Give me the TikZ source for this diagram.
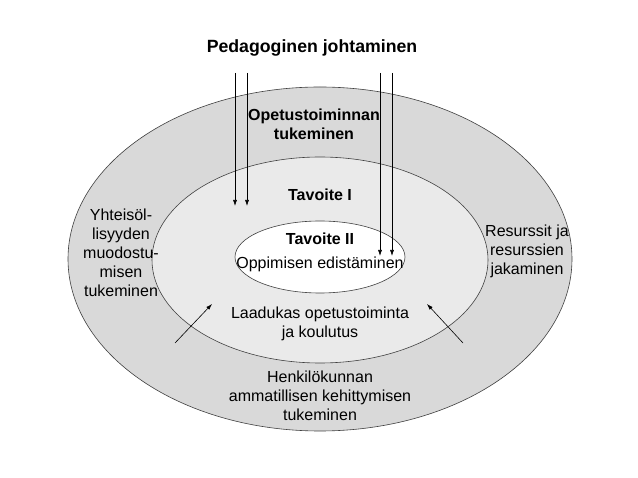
\documentclass[tikz,border=0pt]{standalone}
\usepackage{fontspec}
\setmainfont{Liberation Sans}
\usetikzlibrary{arrows.meta}
\definecolor{outerfill}{HTML}{D9D9D9}
\definecolor{midfill}{HTML}{EAEAEA}
\begin{document}
\begin{tikzpicture}[x=1pt,y=-1pt,
  ring/.style={draw=black!75,line width=0.6pt},
  txt/.style={inner sep=0pt,align=center,font=\fontsize{16}{19}\selectfont},
  btxt/.style={txt,font=\fontsize{16}{19}\selectfont\bfseries},
  arr/.style={draw=black,line width=0.6pt,-{Latex[length=6pt,width=4pt]}}]
\useasboundingbox[fill=white] (0,0) rectangle (638,478);
\fill[outerfill,ring] (320,259) ellipse [x radius=252pt,y radius=172pt];
\fill[midfill,ring] (320,260) ellipse [x radius=168pt,y radius=103pt];
\fill[white,ring] (320,257) ellipse [x radius=85pt,y radius=36pt];
\node[btxt,font=\fontsize{17.7}{20}\selectfont\bfseries] (title) at (312,48) {Pedagoginen johtaminen};
\node[btxt] (opet) at (314,124) {Opetustoiminnan\\tukeminen};
\node[btxt] (tav1) at (320,195) {Tavoite I};
\node[btxt] (tav2) at (320,239) {Tavoite II};
\node[txt] (opp) at (320,264) {Oppimisen edistäminen};
\node[txt] (laad) at (320,324) {Laadukas opetustoiminta\\ja koulutus};
\node[txt] (henk) at (320,396) {Henkilökunnan\\ammatillisen kehittymisen\\tukeminen};
\node[txt] (yht) at (121,253) {Yhteisöl-\\lisyyden\\muodostu-\\misen\\tukeminen};
\node[txt] (res) at (527,251) {Resurssit ja\\resurssien\\jakaminen};
\coordinate (a1s) at (235,73); \coordinate (a1e) at (235,206);
\coordinate (a2s) at (247,73); \coordinate (a2e) at (247,206);
\coordinate (a3s) at (380,73); \coordinate (a3e) at (380,256);
\coordinate (a4s) at (392,73); \coordinate (a4e) at (392,256);
\coordinate (d1s) at (175,343); \coordinate (d1e) at (212,304);
\coordinate (d2s) at (463,343); \coordinate (d2e) at (427,304);
\draw[arr] (a1s) -- (a1e);
\draw[arr] (a2s) -- (a2e);
\draw[arr] (a3s) -- (a3e);
\draw[arr] (a4s) -- (a4e);
\draw[arr] (d1s) -- (d1e);
\draw[arr] (d2s) -- (d2e);
\end{tikzpicture}
\end{document}
